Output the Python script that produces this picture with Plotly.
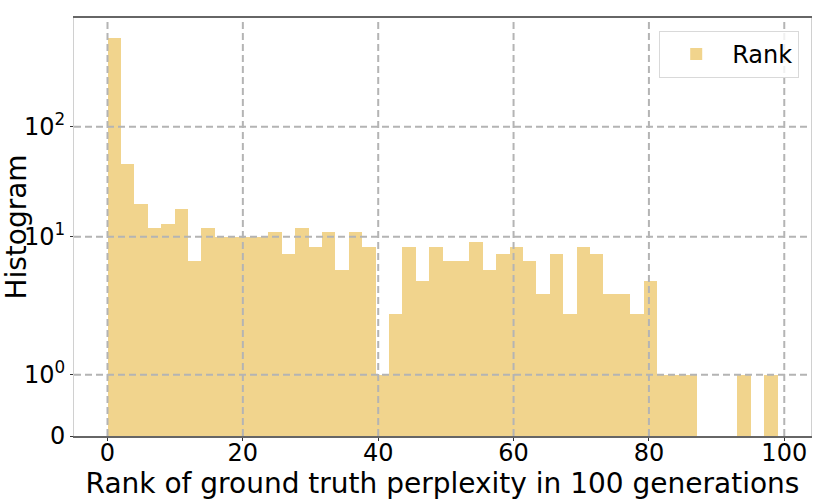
import numpy as np
import plotly.graph_objects as go

# ---- data ----
BIN_START = 0.0
BIN_END = 99.0
N_BINS = 50
COUNTS = [640, 46, 20, 12, 13, 18, 6, 12, 10, 10,
          10, 10, 11, 7, 12, 8, 11, 5, 11, 8,
          1, 2, 8, 4, 8, 6, 6, 9, 5, 7,
          8, 6, 3, 7, 2, 8, 7, 3, 3, 2,
          4, 1, 1, 1, 0, 0, 0, 1, 0, 1]
X_TICKS = [0, 20, 40, 60, 80, 100]
Y_TICKS = [0, 1, 10, 100]
Y_TICK_TEXT = ["0", "10<sup>0</sup>", "10<sup>1</sup>", "10<sup>2</sup>"]
SERIES_NAME = "Rank"
X_TITLE = "Rank of ground truth perplexity in 100 generations"
Y_TITLE = "Histogram"

# symmetric-log scale (matplotlib 'symlog', linthresh=2, linscale=1)
LINTHRESH = 2.0
LINSCALE = 1.0


def symlog(v):
    adj = LINSCALE / (1.0 - 1.0 / 10.0)
    v = float(v)
    if abs(v) <= LINTHRESH:
        return v * adj
    return np.sign(v) * LINTHRESH * (adj + np.log10(abs(v) / LINTHRESH))


edges = np.linspace(BIN_START, BIN_END, N_BINS + 1)
centers = (edges[:-1] + edges[1:]) / 2
width = edges[1] - edges[0]
heights = [symlog(c) for c in COUNTS]

BAR_COLOR = "#F1D48D"
GRID_COLOR = "#b4b4b4"
FONT = "DejaVu Sans"

fig = go.Figure()
fig.add_trace(go.Bar(
    x=centers, y=heights, width=width, name=SERIES_NAME,
    marker=dict(color=BAR_COLOR, line=dict(width=0)),
    customdata=COUNTS, hovertemplate="%{customdata}<extra></extra>",
    showlegend=True,
))

ymax_t = max(heights) * 1.05
xpad = (BIN_END - BIN_START) * 0.05

shapes = []
for xv in X_TICKS:
    shapes.append(dict(type="line", xref="x", yref="paper", x0=xv, x1=xv, y0=0, y1=1,
                       line=dict(color=GRID_COLOR, width=2, dash="7px,4px"), layer="above"))
for yv in Y_TICKS[1:]:
    ty = symlog(yv)
    shapes.append(dict(type="line", xref="paper", yref="y", x0=0, x1=1, y0=ty, y1=ty,
                       line=dict(color=GRID_COLOR, width=2, dash="7px,4px"), layer="above"))

fig.update_layout(
    width=822, height=502,
    margin=dict(l=74, r=11, t=18, b=66),
    paper_bgcolor="white", plot_bgcolor="white",
    font=dict(family=FONT, size=24, color="black"),
    bargap=0,
    shapes=shapes,
    legend=dict(x=0.984, y=0.969, xanchor="right", yanchor="top",
                bgcolor="rgba(255,255,255,0.8)", bordercolor="#d9d9d9", borderwidth=1,
                itemwidth=62,
                font=dict(family=FONT, size=24)),
    xaxis=dict(
        range=[BIN_START - xpad, BIN_END + xpad],
        tickvals=X_TICKS, ticktext=[str(v) for v in X_TICKS],
        showgrid=False, zeroline=False, automargin=False,
        showline=True, linecolor="#666666", linewidth=1.5, mirror=True,
        ticks="outside", ticklen=3, tickcolor="#333333",
        ticklabelstandoff=-9,
        tickfont=dict(family=FONT, size=24),
        title=dict(text=X_TITLE, font=dict(family=FONT, size=28), standoff=0),
    ),
    yaxis=dict(
        range=[0, ymax_t],
        tickvals=[symlog(v) for v in Y_TICKS], ticktext=Y_TICK_TEXT,
        showgrid=False, zeroline=False, automargin=False,
        showline=True, linecolor="#d0d0d0", linewidth=1, mirror=True,
        ticks="outside", ticklen=3, tickcolor="#333333",
        tickfont=dict(family=FONT, size=24),
        title=dict(text=Y_TITLE, font=dict(family=FONT, size=28), standoff=0),
    ),
)

fig.write_html("out.html", config={"displayModeBar": False},
               post_script="document.body.style.margin='0';")
